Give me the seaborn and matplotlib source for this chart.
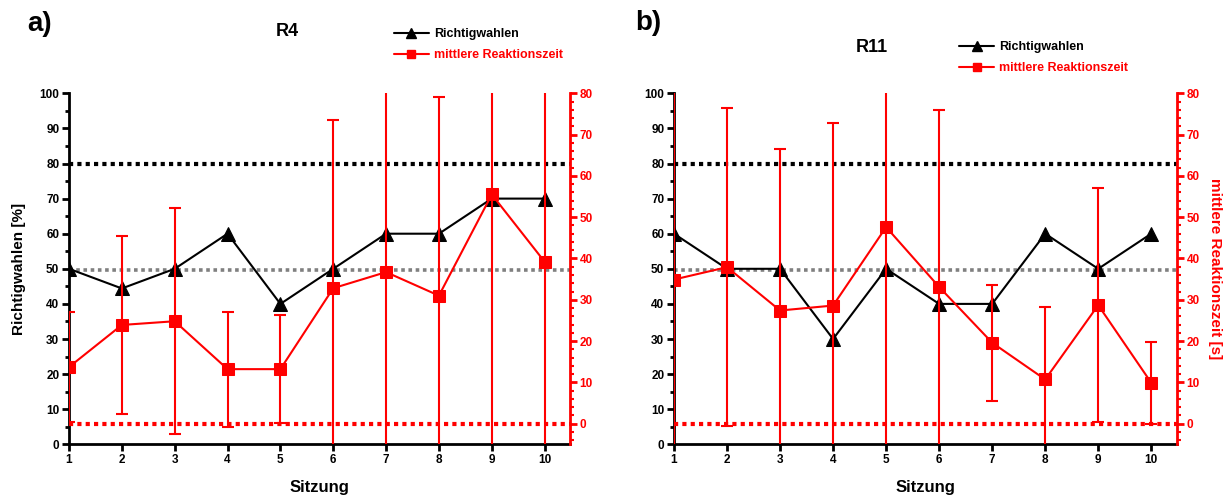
import numpy as np
import pandas as pd
import matplotlib
matplotlib.use("Agg")
import matplotlib.pyplot as plt
from matplotlib.lines import Line2D
from matplotlib.ticker import MultipleLocator
import seaborn as sns

sns.set_theme(style="ticks")
plt.rcParams['font.family'] = ['Liberation Sans', 'DejaVu Sans']
plt.rcParams['font.weight'] = 'bold'
plt.rcParams['text.color'] = 'black'
plt.rcParams['axes.labelcolor'] = 'black'
plt.rcParams['xtick.color'] = 'black'
plt.rcParams['ytick.color'] = 'black'

# data
sitzung = [1, 2, 3, 4, 5, 6, 7, 8, 9, 10]
r4_richtig = [50, 44.4, 50, 60, 40, 50, 60, 60, 70, 70]
r4_zeit = [13.7, 23.9, 24.8, 13.2, 13.2, 32.8, 36.7, 31.0, 55.5, 39.2]
r4_fehler = [13.4, 21.6, 27.4, 13.9, 13.0, 40.7, 50.0, 48.1, 65.0, 45.0]
r11_richtig = [60, 50, 50, 30, 50, 40, 40, 60, 50, 60]
r11_zeit = [34.9, 37.9, 27.4, 28.6, 47.6, 33.1, 19.6, 10.7, 28.7, 9.9]
r11_fehler = [50.0, 38.5, 39.2, 44.3, 55.0, 42.9, 14.0, 17.5, 28.3, 9.9]

# reference lines
ref_richtig_hoch = 80
ref_richtig_zufall = 49.6
ref_zeit = 0

W, H = 1232, 497
fig = plt.figure(figsize=(W / 100, H / 100), dpi=100)

RED = '#ff0000'


def panel(left_px, right_px, richtig, zeit, fehler, title, letter, legend_pos, title_pos, letter_pos,
          left_label, right_label):
    bottom_px, top_px = 444.3, 93.3
    ax = fig.add_axes([left_px / W, 1 - bottom_px / H, (right_px - left_px) / W, (bottom_px - top_px) / H])
    ax2 = ax.twinx()
    df = pd.DataFrame({'Sitzung': sitzung, 'richtig': richtig, 'zeit': zeit})

    ax.axhline(ref_richtig_hoch, color='black', lw=3, ls=(0, (1, 1)), zorder=1)
    ax.axhline(ref_richtig_zufall, color='#808080', lw=2.6, ls=(0, (1, 1)), zorder=1)
    sns.lineplot(data=df, x='Sitzung', y='richtig', ax=ax, color='black', lw=1.5,
                 marker='^', markersize=10, markeredgecolor='black', zorder=3)

    ax2.axhline(ref_zeit, color=RED, lw=3, ls=(0, (1, 1)), zorder=1)
    ax2.errorbar(sitzung, zeit, yerr=fehler, fmt='none', ecolor=RED, elinewidth=1.5,
                 capsize=4, capthick=1.5, zorder=2)
    sns.lineplot(data=df, x='Sitzung', y='zeit', ax=ax2, color=RED, lw=1.5,
                 marker='s', markersize=8, markeredgecolor=RED, zorder=3)

    ax.set_xlim(1, 10.48)
    ax.set_ylim(0, 100)
    ax2.set_ylim(-5, 80)
    ax.set_xticks(sitzung)
    ax.yaxis.set_major_locator(MultipleLocator(10))
    ax.yaxis.set_minor_locator(MultipleLocator(5))
    ax2.yaxis.set_major_locator(MultipleLocator(10))
    ax2.yaxis.set_minor_locator(MultipleLocator(2))
    ax2.set_yticks([0, 10, 20, 30, 40, 50, 60, 70, 80])

    ax.spines['top'].set_visible(False)
    ax2.spines['top'].set_visible(False)
    ax.spines['right'].set_visible(False)
    ax2.spines['left'].set_visible(False)
    ax2.spines['bottom'].set_visible(False)
    ax.spines['left'].set_linewidth(2)
    ax.spines['bottom'].set_linewidth(2)
    ax.spines['left'].set_color('black')
    ax.spines['bottom'].set_color('black')
    ax2.spines['right'].set_color(RED)
    ax2.spines['right'].set_linewidth(2)

    ax.tick_params(axis='both', which='major', direction='out', length=5, width=2,
                   labelsize=8.5, pad=2, color='black', labelcolor='black')
    ax.tick_params(axis='y', which='minor', direction='out', length=3, width=2, color='black')
    ax2.tick_params(axis='y', which='major', direction='out', length=5, width=2,
                    labelsize=8.5, pad=2, color=RED, labelcolor=RED)
    ax2.tick_params(axis='y', which='minor', direction='out', length=3, width=1.5, color=RED)
    for lab in ax.get_xticklabels() + ax.get_yticklabels() + ax2.get_yticklabels():
        lab.set_fontweight('bold')

    ax.set_xlabel('Sitzung', fontsize=12, fontweight='bold', labelpad=10, color='black')
    ax.set_ylabel(left_label, fontsize=11, fontweight='bold', labelpad=10, color='black')
    if right_label:
        ax2.set_ylabel(right_label, fontsize=11, fontweight='bold', color=RED,
                       rotation=270, labelpad=16)
    else:
        ax2.set_ylabel('')

    handles = [Line2D([], [], color='black', lw=1.5, marker='^', markersize=7),
               Line2D([], [], color=RED, lw=1.5, marker='s', markersize=6)]
    fig.legend(handles, ['Richtigwahlen', 'mittlere Reaktionszeit'], loc='upper left',
               bbox_to_anchor=(legend_pos[0] / W, 1 - legend_pos[1] / H), frameon=False,
               labelcolor=['black', RED], prop={'weight': 'bold', 'size': 9},
               handlelength=2.8, handletextpad=0.4, labelspacing=0.75, borderaxespad=0)
    fig.text(title_pos[0] / W, 1 - title_pos[1] / H, title, ha='center', va='center',
             fontsize=13, fontweight='bold', color='black')
    fig.text(letter_pos[0] / W, 1 - letter_pos[1] / H, letter, ha='center', va='center',
             fontsize=20, fontweight='bold', color='black')


panel(69, 570, r4_richtig, r4_zeit, r4_fehler, 'R4', 'a)', (389, 23), (287, 32), (40, 24),
      'Richtigwahlen [%]', None)
panel(674, 1176.7, r11_richtig, r11_zeit, r11_fehler, 'R11', 'b)', (954, 36), (872, 47), (648, 23),
      '', 'mittlere Reaktionszeit [s]')

fig.savefig('out.png', dpi=100)
